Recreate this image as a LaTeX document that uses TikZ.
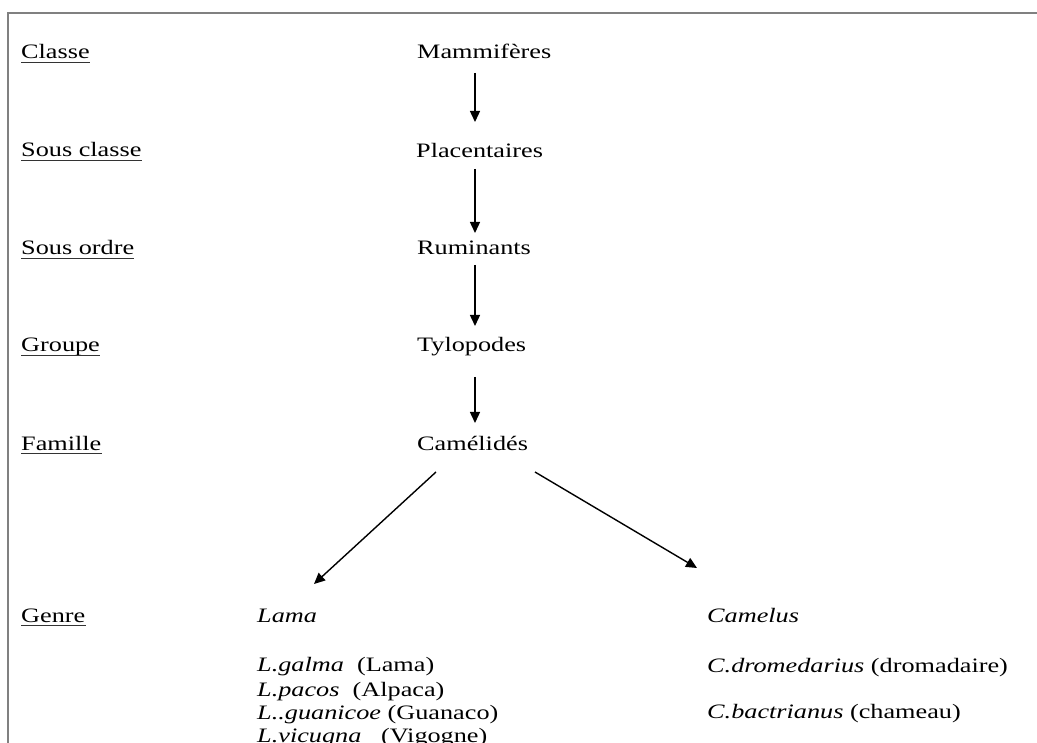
\documentclass[tikz,border=0pt]{standalone}
\usepackage{fontspec}
\setmainfont{Liberation Serif}[FakeStretch=1.28]
\usetikzlibrary{arrows.meta,calc}
\begin{document}
\begin{tikzpicture}[x=1pt,y=-1pt,
  every node/.style={inner sep=0pt, anchor=base west, font=\fontsize{20.5}{24}\selectfont},
  arr/.style={line width=1.4pt, -{Triangle[length=11pt,width=10pt]}},
  uline/.style={line width=1.2pt, black!80},
  frame/.style={line width=1.5pt, black!50}]
\useasboundingbox (0,0) rectangle (1037,743);
\clip (0,0) rectangle (1037,743);
\draw[frame] (8,760) -- (8,13) -- (1045,13);
% rank labels
\node (classe) at (21,59) {Classe};
\node (sclasse) at (21,157) {Sous classe};
\node (sordre) at (21,255) {Sous ordre};
\node (groupe) at (21,352) {Groupe};
\node (famille) at (21,450) {Famille};
\node (genre) at (21,622) {Genre};
\foreach \n in {classe,sclasse,sordre,groupe,famille,genre}
  \draw[uline] ($(\n.base west)+(0,3.5)$) -- ($(\n.base east)+(0,3.5)$);
% taxa
\node (mam) at (417,59) {Mammifères};
\node (pla) at (416,158) {Placentaires};
\node (rum) at (417,255) {Ruminants};
\node (tyl) at (417,352) {Tylopodes};
\node (cam) at (417,450) {Camélidés};
\node (lama) at (257,622) {\textit{Lama}};
\node (camelus) at (707,622) {\textit{Camelus}};
\node (lg) at (257,671) {\textit{L.galma}\ \ (Lama)};
\node (lp) at (257,696) {\textit{L.pacos}\ \ (Alpaca)};
\node (lgu) at (257,719) {\textit{L..guanicoe} (Guanaco)};
\node (lv) at (257,742) {\textit{L.vicugna}\ \ \ (Vigogne)};
\node (cd) at (707,672) {\textit{C.dromedarius} (dromadaire)};
\node (cb) at (707,718) {\textit{C.bactrianus} (chameau)};
% arrows
\draw[arr] ($(mam.base west)+(58,14)$) -- ($(pla.base west)+(59,-36)$);
\draw[arr] ($(pla.base west)+(59,11)$) -- ($(rum.base west)+(58,-22)$);
\draw[arr] ($(rum.base west)+(58,10)$) -- ($(tyl.base west)+(58,-26)$);
\draw[arr] ($(tyl.base west)+(58,25)$) -- ($(cam.base west)+(58,-27)$);
\draw[arr] ($(cam.base west)+(19,22)$) -- ($(lama.base west)+(57,-38)$);
\draw[arr] ($(cam.base west)+(118,22)$) -- ($(camelus.base west)+(-10,-54)$);
\end{tikzpicture}
\end{document}
